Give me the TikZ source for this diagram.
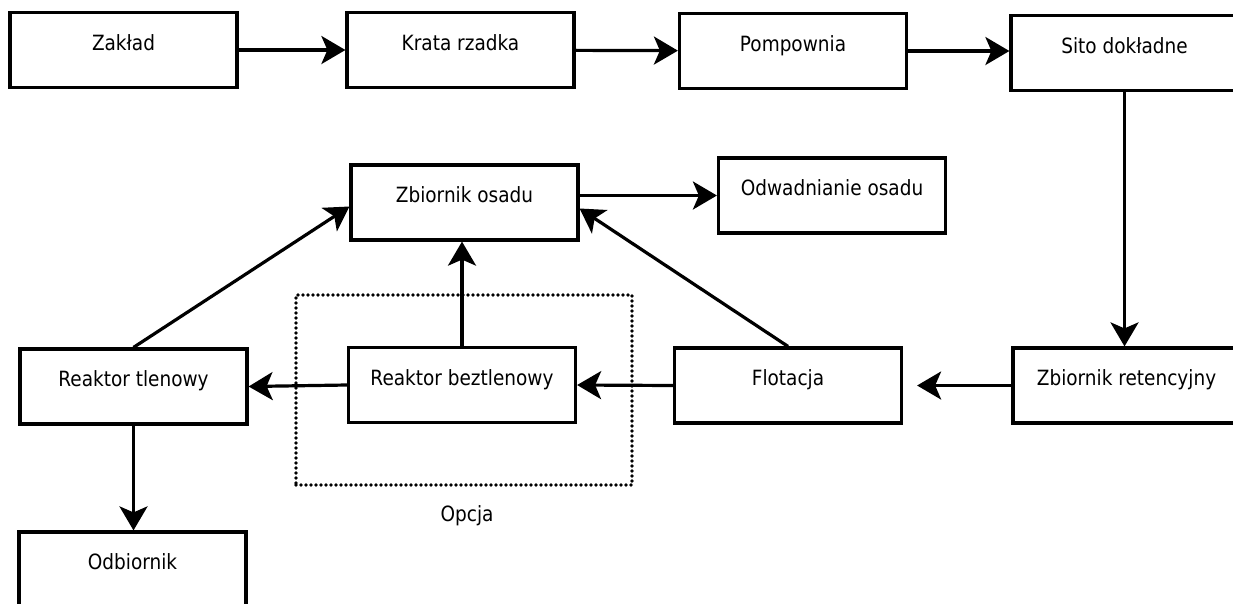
\documentclass[tikz,border=0pt]{standalone}
\usepackage{fontspec}
\setmainfont[FakeStretch=0.88]{DejaVu Sans}
\usetikzlibrary{arrows.meta}
\begin{document}
\begin{tikzpicture}[x=1pt,y=-1pt,
  lab/.style={font=\fontsize{21}{23}\selectfont},
  box/.style={lab, draw, line width=3.2pt, minimum width=227pt, minimum height=75pt,
    inner sep=0pt, text height=14pt, text depth=14pt},
  flow/.style={line width=3.2pt, -{Stealth[length=24pt,width=28pt,inset=6pt]}},
  opt/.style={draw, line width=3.6pt, dash pattern=on 0pt off 5pt, line cap=round,
    minimum width=336pt, minimum height=190pt, inner sep=0pt}]
\useasboundingbox (0,0) rectangle (1233,603);
\fill[white] (0,0) rectangle (1233,603);

\node[box] (zak) at (123.5,50) {Zakład};
\node[box] (kr) at (460.5,50) {Krata rzadka};
\node[box] (pom) at (793,51) {Pompownia};
\node[box] (sito) at (1124.5,53) {Sito dokładne};
\node[box] (zo) at (464.5,202.5) {Zbiornik osadu};
\node[box] (ow) at (832,195.5) {Odwadnianie osadu};
\node[box] (rt) at (133.5,386.5) {Reaktor tlenowy};
\node[box] (rb) at (462,385) {Reaktor beztlenowy};
\node[box] (fl) at (788,385.5) {Flotacja};
\node[box] (zr) at (1126.5,385.5) {Zbiornik retencyjny};
\node[box] (ob) at (132.5,569.5) {Odbiornik};

\node[opt] (grp) at (464,390) {};
\node[lab] (opcja) at (467,516) {Opcja};

\draw[flow] (zak) -- (kr);
\draw[flow] (kr) -- (pom);
\draw[flow] (pom.east) -- (pom.east -| sito.west);
\draw[flow] (sito.south) -- (sito.south |- zr.north);
\draw[flow, shorten >=14pt] (zr.west) -- (fl.east);
\draw[flow] (fl.west) -- (rb.east);
\draw[flow] (rb.west) -- (rt.east);
\draw[flow] (rt.south) -- (rt.south |- ob.north);
\draw[flow] (rb.north) -- (rb.north |- zo.south);
\draw[flow] (rt.north) -- ([yshift=-4pt]zo.west);
\draw[flow] (fl.north) -- ([yshift=-6pt]zo.east);
\draw[flow] (zo.east |- ow.west) -- (ow.west);
\end{tikzpicture}
\end{document}
